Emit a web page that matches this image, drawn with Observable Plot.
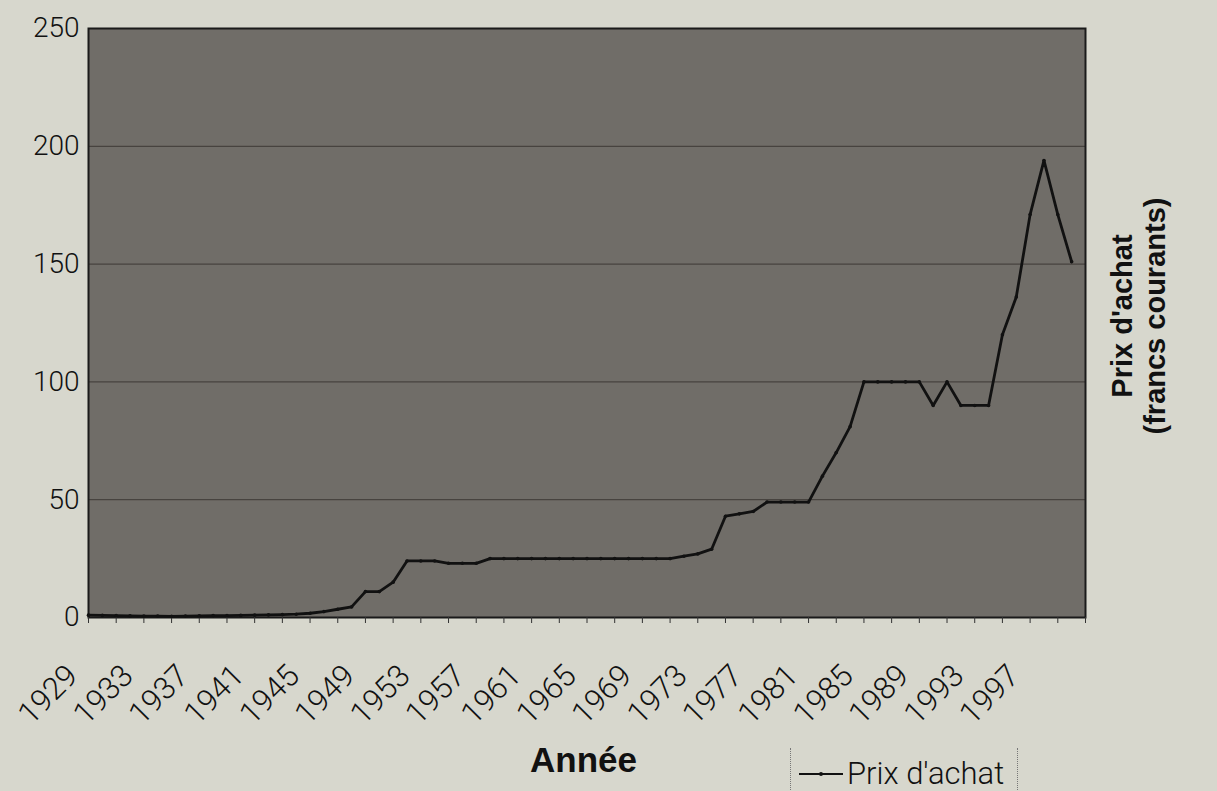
<!DOCTYPE html>
<html>
<head>
<meta charset="utf-8">
<script src="https://cdn.jsdelivr.net/npm/d3@7"></script>
<script src="https://cdn.jsdelivr.net/npm/@observablehq/plot@0.6"></script>
<style>
  html, body { margin: 0; padding: 0; background: #d7d7cd; }
  #wrap { position: relative; width: 1217px; height: 791px; overflow: hidden; background: #d7d7cd; font-family: Roboto, "Liberation Sans", sans-serif; }
  #chart { position: absolute; left: 0; top: 0; }
  .ytitle { position: absolute; left: 998px; top: 284px; width: 280px; transform: rotate(-90deg); transform-origin: 140px 32px;
            text-align: center; font-family: "Liberation Sans", Arial, sans-serif; font-weight: bold; font-size: 29px; line-height: 33px; color: #111; }
  .xtitle { position: absolute; left: 530px; top: 740px; font-family: "Liberation Sans", Arial, sans-serif; font-weight: bold; font-size: 35px; color: #111; }
  .legend { position: absolute; left: 790px; top: 748px; width: 226px; height: 50px; border-left: 1px dotted #777; border-right: 1px dotted #777; display: flex; align-items: center; }
  .legend span { font-size: 31px; font-weight: 300; color: #111; margin-left: 4px; }
</style>
</head>
<body>
<div id="wrap">
  <div id="chart"></div>
  <div class="ytitle">Prix d'achat<br>(francs courants)</div>
  <div class="xtitle">Année</div>
  <div class="legend"><svg width="52" height="20"><line x1="8" y1="11" x2="52" y2="11" stroke="#111" stroke-width="2"/><circle cx="30" cy="11" r="2" fill="#111"/></svg><span>Prix d'achat</span></div>
</div>
<script>
const years = [1929,1930,1931,1932,1933,1934,1935,1936,1937,1938,1939,1940,1941,1942,1943,1944,1945,1946,1947,1948,
  1949,1950,1951,1952,1953,1954,1955,1956,1957,1958,1959,1960,1961,1962,1963,1964,1965,1966,1967,1968,
  1969,1970,1971,1972,1973,1974,1975,1976,1977,1978,1979,1980,1981,1982,1983,1984,1985,1986,1987,1988,
  1989,1990,1991,1992,1993,1994,1995,1996,1997,1998,1999,2000];
const prix = [1.0,0.9,0.8,0.7,0.6,0.6,0.5,0.6,0.7,0.8,0.8,0.9,1.0,1.1,1.2,1.4,1.8,2.5,3.5,4.5,
  11,11,15,24,24,24,23,23,23,25,25,25,25,25,25,25,25,25,25,25,
  25,25,25,26,27,29,43,44,45,49,49,49,49,60,70,81,100,100,100,100,
  100,90,100,90,90,90,120,136,171,194,171,151];
const yTicks = [0,50,100,150,200,250];
const labelYears = [1929,1933,1937,1941,1945,1949,1953,1957,1961,1965,1969,1973,1977,1981,1985,1989,1993,1997];
const minorYears = [1929,1931,1933,1935,1937,1939,1941,1943,1945,1947,1949,1951,1953,1955,1957,1959,1961,1963,1965,1967,
  1969,1971,1973,1975,1977,1979,1981,1983,1985,1987,1989,1991,1993,1995,1997,1999,2001];

const data = years.map((y, i) => ({year: y, value: prix[i]}));

const chart = Plot.plot({
  width: 1217,
  height: 791,
  marginLeft: 88,
  marginRight: 132,
  marginTop: 28,
  marginBottom: 174,
  x: {domain: [1929, 2001]},
  y: {domain: [0, 250]},
  style: {background: "transparent", fontFamily: "Roboto, 'Liberation Sans', sans-serif", color: "#111"},
  marks: [
    Plot.frame({fill: "#706d68", stroke: null}),
    Plot.ruleY(yTicks.slice(1, -1), {stroke: "#47433f", strokeWidth: 1.3}),
    Plot.frame({stroke: "#1a1a1a", strokeWidth: 2}),
    Plot.axisY({ticks: yTicks, tickSize: 0, tickPadding: 9, label: null, fontSize: 28, fontWeight: 300}),
    Plot.axisX({ticks: minorYears, tickSize: 6, text: null, label: null, stroke: "#333"}),
    Plot.axisX({ticks: labelYears, tickSize: 0, tickPadding: 53, tickRotate: -45, dx: -16, tickFormat: d => String(d), label: null, fontSize: 31, fontWeight: 300}),
    Plot.line(data, {x: "year", y: "value", stroke: "#111", strokeWidth: 2.8}),
    Plot.dot(data, {x: "year", y: "value", r: 1.8, fill: "#111"})
  ]
});
document.getElementById("chart").appendChild(chart);
</script>
</body>
</html>
